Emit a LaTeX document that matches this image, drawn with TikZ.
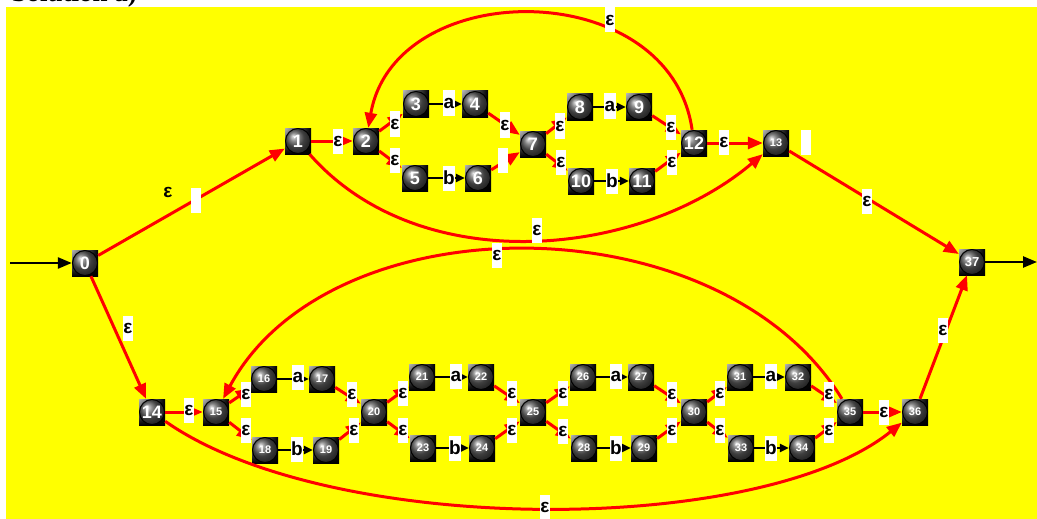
\documentclass[tikz,border=0pt]{standalone}
\usepackage{fontspec}
\setmainfont{Liberation Serif}
\setsansfont{Liberation Sans}
\usepackage{tikz}
\usetikzlibrary{arrows.meta, shadings}
\tikzstyle{automaton} = [x = 1pt, y = -1pt]
\definecolor{bgColor}{RGB}{255,255,0}
\definecolor{epsColor}{RGB}{255,0,0}
\tikzstyle{stateStyle} = [rectangle, fill=black, minimum size=26pt, inner sep=0pt, text=white,
  path picture={
    \shade [upper left=gray!60, upper right=black, lower left=black, lower right=black]
      (path picture bounding box.south west) rectangle (path picture bounding box.north east);
    \shade [ball color=black!65] (path picture bounding box.center) circle (12.5pt);
    \draw [black, line width=1pt] (path picture bounding box.center) circle (12.5pt);
  }]
\tikzstyle{bigNum} = [font=\sffamily\bfseries\fontsize{18}{18}\selectfont]
\tikzstyle{midNum} = [font=\sffamily\bfseries\fontsize{13}{13}\selectfont]
\tikzstyle{smallNum} = [font=\sffamily\bfseries\fontsize{11}{11}\selectfont]
\tikzstyle{epsLine} = [color=epsColor, line width=3pt, -{Triangle[length=15pt, width=12pt]}]
\tikzstyle{symLine} = [color=black, line width=2.5pt, -{Triangle[length=9pt, width=8pt]}]
\tikzstyle{ioLine} = [color=black, line width=2.5pt, -{Triangle[length=14pt, width=11pt]}]
\tikzstyle{labelBox} = [fill=white, inner xsep=0.3pt, inner ysep=0pt, minimum height=25pt, minimum width=10pt,
  font=\sffamily\bfseries\fontsize{19}{19}\selectfont]
\tikzstyle{labelText} = [inner sep=0pt, font=\sffamily\bfseries\fontsize{19}{19}\selectfont]
\newcommand{\stateNode}[4]{\node [stateStyle, #4] (n#1) at (#2,#3) {#1};}
\newcommand{\epsEdge}[2]{\draw [epsLine] (n#1) -- (n#2);}
\newcommand{\symEdge}[2]{\draw [symLine] (n#1) -- (n#2);}
\newcommand{\edgeLabel}[4]{\node [labelBox] (#1) at (#2,#3) {#4};}

\begin{document}
\begin{tikzpicture}[automaton]
  \useasboundingbox (0,0) rectangle (1037,519);
  \fill [white] (0,0) rectangle (1037,519);
  \fill [bgColor] (6,7) rectangle (1037,519);
  \node [anchor=base east, inner sep=0pt, font=\rmfamily\bfseries\fontsize{27}{27}\selectfont] (title) at (137,2) {Solution a)};

  % states
  \foreach \name/\x/\y in {0/85/263, 1/298/141, 2/366/141, 3/416/104, 4/475/104, 5/415/178,
                           6/478/178, 7/533/144, 8/580/107, 9/639/107, 10/581/181, 11/642/181,
                           12/694/143, 14/152/412} {
    \stateNode{\name}{\x}{\y}{bigNum}
  }
  \foreach \name/\x/\y in {13/776/143, 15/216/412, 16/264/379, 17/322/379, 18/265/450, 19/326/450,
                           20/374/412, 21/422/377, 22/481/377, 23/423/448, 24/482/448,
                           25/533/412, 26/583/377, 27/641/377, 28/584/448, 29/644/448,
                           30/694/412, 31/740/377, 32/798/377, 33/741/448, 34/802/448,
                           35/850/412, 36/915/412} {
    \stateNode{\name}{\x}{\y}{smallNum}
  }
  \stateNode{37}{972}{262}{midNum}

  % start and end
  \coordinate (start) at (10,263);
  \coordinate (finish) at (1037,262);
  \draw [ioLine] (start) -- (n0);
  \draw [ioLine] (n37) -- (finish);

  % epsilon moves
  \foreach \a/\b in {0/1, 0/14, 1/2, 2/3, 2/5, 4/7, 6/7, 7/8, 7/10, 9/12, 11/12, 12/13, 13/37,
                     36/37, 14/15, 15/16, 15/18, 17/20, 19/20, 20/21, 20/23, 22/25, 24/25,
                     25/26, 25/28, 27/30, 29/30, 30/31, 30/33, 32/35, 34/35, 35/36} {
    \epsEdge{\a}{\b}
  }
  \draw [epsLine] (n12) .. controls (670,-25) and (395,-25) .. (n2);
  \draw [epsLine] (n1) .. controls (420,280) and (640,258) .. (n13);
  \draw [epsLine] (n35) .. controls (720,200) and (330,200) .. (n15);
  \draw [epsLine] (n14) .. controls (330,537) and (760,537) .. (n36);

  % symbol moves
  \foreach \a/\b in {3/4, 5/6, 8/9, 10/11, 16/17, 18/19, 21/22, 23/24, 26/27, 28/29, 31/32, 33/34} {
    \symEdge{\a}{\b}
  }

  % labels
  \foreach \x/\y [count=\i] in {128/328, 338/141, 395/124, 395/160, 505/125, 560/126, 561/162,
                                671/127, 672/162, 724/142, 610/20, 537/230, 497/255, 867/201,
                                943/330, 545/507, 189/410, 246/394, 246/430, 352/394, 354/430,
                                403/393, 403/430, 512/393, 512/430, 563/393, 563/431, 672/394,
                                672/430, 720/393, 720/430, 829/394, 829/430, 884/412} {
    \edgeLabel{eps\i}{\x}{\y}{ε}
  }
  \foreach \x/\y/\t [count=\i] in {449/103/a, 449/178/b, 610/106/a, 612/181/b, 298/377/a, 297/449/b,
                                   456/376/a, 455/448/b, 616/376/a, 616/448/b, 771/376/a, 771/448/b} {
    \edgeLabel{sym\i}{\x}{\y}{\t}
  }
  \foreach \x/\y [count=\i] in {196/200, 503/160, 806/142} {
    \edgeLabel{blank\i}{\x}{\y}{}
  }
  \node [labelText] (epsFree) at (168,192) {ε};
\end{tikzpicture}
\end{document}
